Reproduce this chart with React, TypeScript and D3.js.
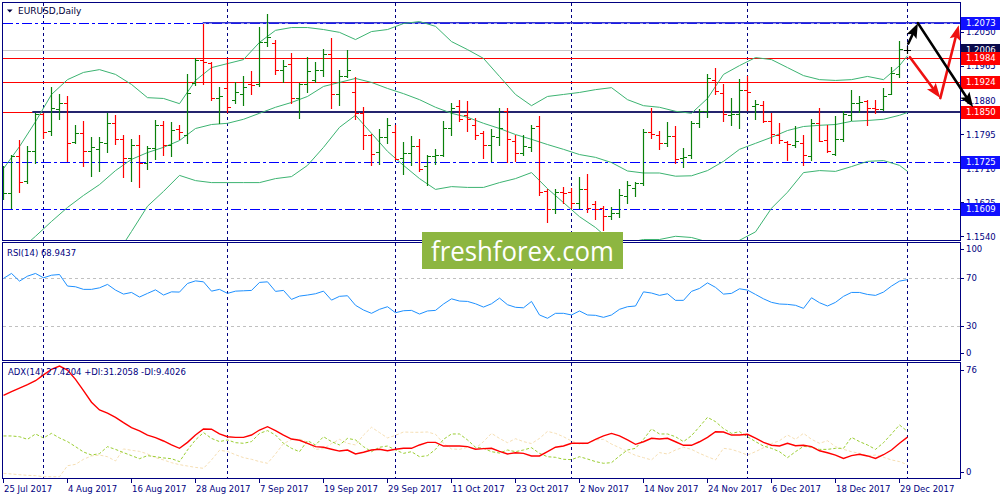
import React, { useEffect, useRef } from 'react';
import * as d3 from 'd3';

// EURUSD daily bars, 25 Jul 2017 .. 1 Jan 2018 (one entry per trading day)
const BAR_OPEN = [
  1.1636, 1.1649, 1.1740, 1.1678, 1.1753, 1.1844, 1.1802, 1.1857, 1.1873, 1.1775,
  1.1797, 1.1754, 1.1758, 1.1773, 1.1823, 1.1782, 1.1736, 1.1768, 1.1722, 1.1761,
  1.1819, 1.1768, 1.1807, 1.1792, 1.1923, 1.1981, 1.1973, 1.1885, 1.1911, 1.1879,
  1.1894, 1.1919, 1.1919, 1.2025, 1.2023, 1.1954, 1.1969, 1.1884, 1.1919, 1.1931,
  1.1955, 1.1996, 1.1896, 1.1940, 1.1901, 1.1848, 1.1794, 1.1751, 1.1788, 1.1801,
  1.1736, 1.1748, 1.1765, 1.1715, 1.1740, 1.1743, 1.1811, 1.1865, 1.1842, 1.1819,
  1.1798, 1.1768, 1.1788, 1.1852, 1.1778, 1.1748, 1.1763, 1.1815, 1.1653, 1.1609,
  1.1650, 1.1650, 1.1624, 1.1657, 1.1620, 1.1611, 1.1590, 1.1599, 1.1640, 1.1661,
  1.1674, 1.1801, 1.1794, 1.1772, 1.1790, 1.1736, 1.1742, 1.1822, 1.1852, 1.1931,
  1.1898, 1.1842, 1.1844, 1.1906, 1.1865, 1.1867, 1.1827, 1.1794, 1.1776, 1.1767,
  1.1772, 1.1741, 1.1823, 1.1780, 1.1746, 1.1783, 1.1842, 1.1873, 1.1877, 1.1861,
  1.1858, 1.1896, 1.1944, 1.2006,
];
const BAR_HIGH = [
  1.1715, 1.1742, 1.1780, 1.1765, 1.1848, 1.1848, 1.1912, 1.1894, 1.1891, 1.1817,
  1.1827, 1.1788, 1.1788, 1.1848, 1.1842, 1.1794, 1.1782, 1.1792, 1.1765, 1.1829,
  1.1827, 1.1825, 1.1819, 1.1944, 1.1985, 1.2071, 1.1975, 1.1913, 1.1981, 1.1925,
  1.1941, 1.1952, 1.2063, 1.2094, 1.2031, 1.1979, 1.1998, 1.1923, 1.1988, 1.1975,
  1.2008, 1.2035, 1.1956, 1.2006, 1.1938, 1.1863, 1.1796, 1.1807, 1.1834, 1.1817,
  1.1776, 1.1790, 1.1782, 1.1743, 1.1757, 1.1827, 1.1873, 1.1881, 1.1877, 1.1836,
  1.1802, 1.1807, 1.1861, 1.1859, 1.1792, 1.1794, 1.1819, 1.1840, 1.1659, 1.1659,
  1.1663, 1.1661, 1.1688, 1.1696, 1.1628, 1.1615, 1.1614, 1.1657, 1.1678, 1.1675,
  1.1807, 1.1861, 1.1802, 1.1825, 1.1815, 1.1761, 1.1827, 1.1858, 1.1946, 1.1960,
  1.1921, 1.1884, 1.1933, 1.1941, 1.1881, 1.1877, 1.1848, 1.1823, 1.1778, 1.1815,
  1.1794, 1.1832, 1.1861, 1.1817, 1.1840, 1.1852, 1.1905, 1.1891, 1.1881, 1.1881,
  1.1911, 1.1962, 1.2027, 1.2014,
];
const BAR_LOW = [
  1.1632, 1.1611, 1.1650, 1.1674, 1.1723, 1.1786, 1.1794, 1.1832, 1.1728, 1.1772,
  1.1715, 1.1690, 1.1704, 1.1750, 1.1771, 1.1688, 1.1679, 1.1664, 1.1708, 1.1733,
  1.1744, 1.1740, 1.1783, 1.1772, 1.1918, 1.1921, 1.1881, 1.1822, 1.1850, 1.1873,
  1.1867, 1.1894, 1.1915, 1.2015, 1.1946, 1.1925, 1.1873, 1.1836, 1.1900, 1.1926,
  1.1940, 1.1860, 1.1867, 1.1938, 1.1832, 1.1758, 1.1718, 1.1721, 1.1772, 1.1732,
  1.1696, 1.1719, 1.1703, 1.1669, 1.1721, 1.1740, 1.1794, 1.1827, 1.1804, 1.1782,
  1.1736, 1.1729, 1.1767, 1.1725, 1.1727, 1.1744, 1.1753, 1.1644, 1.1575, 1.1597,
  1.1624, 1.1611, 1.1611, 1.1600, 1.1582, 1.1555, 1.1582, 1.1589, 1.1624, 1.1640,
  1.1669, 1.1786, 1.1758, 1.1765, 1.1723, 1.1713, 1.1736, 1.1813, 1.1838, 1.1896,
  1.1827, 1.1817, 1.1811, 1.1854, 1.1832, 1.1825, 1.1773, 1.1773, 1.1730, 1.1763,
  1.1719, 1.1730, 1.1777, 1.1750, 1.1742, 1.1777, 1.1830, 1.1850, 1.1819, 1.1848,
  1.1855, 1.1896, 1.1938, 1.1998,
];
const BAR_CLOSE = [
  1.1649, 1.1740, 1.1675, 1.1753, 1.1844, 1.1801, 1.1859, 1.1872, 1.1773, 1.1797,
  1.1754, 1.1763, 1.1775, 1.1823, 1.1782, 1.1736, 1.1768, 1.1722, 1.1761, 1.1817,
  1.1768, 1.1805, 1.1801, 1.1898, 1.1981, 1.1975, 1.1885, 1.1890, 1.1863, 1.1901,
  1.1913, 1.1917, 1.2025, 1.2038, 1.1954, 1.1965, 1.1884, 1.1920, 1.1952, 1.1955,
  1.1996, 1.1896, 1.1940, 1.1954, 1.1848, 1.1794, 1.1746, 1.1788, 1.1818, 1.1734,
  1.1748, 1.1765, 1.1709, 1.1740, 1.1742, 1.1811, 1.1861, 1.1833, 1.1832, 1.1794,
  1.1768, 1.1790, 1.1811, 1.1782, 1.1747, 1.1765, 1.1811, 1.1650, 1.1609, 1.1650,
  1.1649, 1.1624, 1.1657, 1.1611, 1.1609, 1.1590, 1.1599, 1.1642, 1.1669, 1.1674,
  1.1801, 1.1796, 1.1773, 1.1790, 1.1732, 1.1738, 1.1823, 1.1852, 1.1934, 1.1902,
  1.1844, 1.1846, 1.1906, 1.1900, 1.1869, 1.1827, 1.1796, 1.1780, 1.1771, 1.1778,
  1.1744, 1.1823, 1.1778, 1.1752, 1.1783, 1.1844, 1.1873, 1.1876, 1.1861, 1.1858,
  1.1890, 1.1948, 1.2008, 1.2006,
];

// Bollinger Bands, read every second bar
const BAND_INDEX = [
  0, 2, 4, 6, 8, 10, 12, 14, 16, 18, 20, 22, 24, 26, 28, 30, 32, 34, 36, 38,
  40, 42, 44, 46, 48, 50, 52, 54, 56, 58, 60, 62, 64, 66, 68, 70, 72, 74, 76, 78,
  80, 82, 84, 86, 88, 90, 92, 94, 96, 98, 100, 102, 104, 106, 108, 110, 112, 113,
];
const BAND_UPPER = [
  1.1709, 1.1764, 1.1826, 1.1894, 1.1931, 1.1949, 1.1956, 1.1944, 1.1919, 1.1886,
  1.1884, 1.1871, 1.1929, 1.1961, 1.1971, 1.1981, 1.2024, 1.2054, 1.2061, 1.2061,
  1.2056, 1.2049, 1.2031, 1.2051, 1.2056, 1.2071, 1.2076, 1.2064, 1.2026, 1.2006,
  1.1984, 1.1939, 1.1894, 1.1866, 1.1889, 1.1894, 1.1899, 1.1906, 1.1911, 1.1881,
  1.1866, 1.1862, 1.1852, 1.1847, 1.1884, 1.1944, 1.1966, 1.1986, 1.1981, 1.1961,
  1.1941, 1.1931, 1.1929, 1.1931, 1.1939, 1.1931, 1.1966, 1.1991,
];
const BAND_MIDDLE = [
  1.1467, 1.1505, 1.1540, 1.1577, 1.1612, 1.1642, 1.1669, 1.1704, 1.1732, 1.1749,
  1.1762, 1.1779, 1.1809, 1.1819, 1.1822, 1.1832, 1.1847, 1.1862, 1.1874, 1.1889,
  1.1914, 1.1924, 1.1934, 1.1924, 1.1909, 1.1896, 1.1881, 1.1862, 1.1847, 1.1837,
  1.1822, 1.1809, 1.1794, 1.1782, 1.1769, 1.1757, 1.1744, 1.1737, 1.1724, 1.1703,
  1.1698, 1.1698, 1.1690, 1.1691, 1.1704, 1.1727, 1.1757, 1.1772, 1.1787, 1.1804,
  1.1814, 1.1817, 1.1819, 1.1827, 1.1829, 1.1832, 1.1842, 1.1849,
];
const BAND_LOWER = [
  1.1280, 1.1300, 1.1320, 1.1345, 1.1370, 1.1400, 1.1440, 1.1490, 1.1552, 1.1615,
  1.1652, 1.1692, 1.1679, 1.1674, 1.1674, 1.1674, 1.1674, 1.1684, 1.1689, 1.1717,
  1.1762, 1.1812, 1.1842, 1.1797, 1.1752, 1.1717, 1.1684, 1.1657, 1.1664, 1.1662,
  1.1662, 1.1674, 1.1684, 1.1699, 1.1659, 1.1624, 1.1589, 1.1562, 1.1527, 1.1524,
  1.1532, 1.1532, 1.1540, 1.1537, 1.1526, 1.1522, 1.1530, 1.1551, 1.1610, 1.1650,
  1.1699, 1.1704, 1.1702, 1.1714, 1.1727, 1.1729, 1.1717, 1.1702,
];

const RSI_VALUES = [
  70.0, 74.2, 67.7, 71.9, 74.2, 70.5, 72.7, 73.3, 63.5, 62.9,
  60.7, 60.7, 62.0, 64.9, 60.1, 56.7, 58.1, 54.2, 57.3, 60.3,
  55.9, 58.6, 58.4, 65.7, 67.9, 67.1, 59.2, 60.7, 57.3, 59.2,
  59.5, 59.8, 66.6, 67.1, 59.0, 59.8, 52.2, 55.0, 55.9, 57.0,
  59.2, 51.6, 54.8, 55.3, 47.2, 43.2, 40.4, 43.8, 46.0, 40.9,
  42.6, 42.9, 39.8, 42.4, 42.9, 48.3, 52.7, 50.8, 50.5, 48.5,
  45.7, 48.5, 53.3, 47.7, 45.5, 45.1, 50.5, 39.0, 36.2, 40.4,
  40.4, 39.0, 42.4, 39.0, 38.7, 37.0, 39.0, 43.8, 46.0, 46.6,
  58.6, 57.6, 55.6, 57.0, 51.4, 51.4, 59.0, 61.5, 66.2, 62.4,
  56.7, 57.3, 61.2, 60.1, 56.4, 52.7, 49.7, 48.3, 48.0, 47.2,
  44.6, 53.6, 49.4, 46.6, 49.7, 54.8, 58.1, 58.1, 56.4, 55.6,
  58.4, 63.5, 67.7, 68.94,
];

const ADX_MAIN = [
  54.8, 57.2, 59.6, 61.8, 64.4, 68.2, 71.9, 74.0, 71.4, 65.3,
  57.9, 50.3, 45.2, 43.1, 40.4, 36.9, 33.6, 31.5, 28.8, 27.1,
  24.9, 22.3, 20.1, 24.0, 28.8, 32.8, 32.6, 29.5, 27.7, 27.3,
  27.3, 28.8, 32.1, 34.3, 31.7, 28.8, 26.2, 25.4, 23.4, 21.2,
  20.8, 19.5, 18.3, 19.0, 16.4, 17.5, 19.0, 19.5, 18.5, 19.5,
  20.1, 20.1, 22.3, 24.0, 24.0, 21.6, 21.6, 21.6, 21.2, 19.5,
  19.9, 20.1, 18.1, 16.4, 17.2, 16.8, 15.1, 15.1, 17.9, 20.8,
  21.6, 23.4, 23.4, 23.4, 26.0, 28.2, 29.9, 28.2, 25.6, 22.7,
  24.4, 26.7, 26.2, 26.7, 24.4, 22.1, 22.1, 24.4, 27.3, 31.0,
  30.8, 28.8, 28.8, 29.3, 26.7, 24.0, 22.1, 21.6, 23.4, 21.8,
  22.1, 21.2, 18.5, 17.2, 15.7, 13.5, 15.3, 16.2, 15.1, 13.5,
  15.9, 19.0, 23.4, 27.42,
];
const ADX_PLUS_DI = [
  28.2, 28.2, 27.7, 26.0, 29.5, 26.9, 29.9, 26.9, 24.5, 21.2,
  17.7, 15.7, 16.6, 21.2, 19.4, 17.3, 15.3, 13.3, 15.3, 14.6,
  13.8, 13.3, 11.4, 19.0, 25.6, 30.4, 26.6, 24.5, 25.6, 23.8,
  23.4, 24.5, 29.9, 31.7, 28.8, 23.4, 20.1, 17.9, 25.1, 22.3,
  27.7, 24.5, 22.3, 26.6, 25.6, 21.2, 17.9, 20.8, 21.6, 19.0,
  16.8, 17.9, 14.6, 15.3, 19.4, 26.0, 29.5, 29.5, 25.6, 20.8,
  20.1, 17.9, 17.0, 19.0, 17.9, 19.0, 20.5, 16.8, 14.6, 14.2,
  12.9, 12.7, 14.6, 13.1, 11.4, 10.3, 10.7, 15.1, 19.0, 20.1,
  26.0, 32.8, 29.5, 29.5, 27.7, 24.5, 28.4, 34.3, 40.4, 37.6,
  33.0, 29.9, 31.0, 27.7, 24.5, 21.6, 20.1, 17.9, 14.0, 17.9,
  21.4, 20.8, 19.4, 19.4, 20.1, 20.1, 27.3, 24.5, 22.3, 19.4,
  23.8, 29.5, 35.4, 31.21,
];
const ADX_MINUS_DI = [
  3.7, 3.3, 2.8, 2.4, 2.2, 1.5, 1.5, 1.5, 8.7, 9.6,
  12.9, 15.1, 15.7, 14.6, 11.8, 19.7, 18.8, 18.1, 16.4, 14.0,
  12.5, 10.7, 9.4, 8.5, 7.6, 7.0, 12.5, 18.8, 18.1, 15.9,
  14.0, 12.9, 11.4, 10.3, 16.4, 23.2, 25.8, 26.2, 24.2, 19.4,
  19.9, 23.2, 26.0, 23.4, 22.3, 28.8, 33.9, 30.4, 26.9, 28.6,
  30.8, 30.6, 30.6, 30.8, 29.3, 23.4, 19.7, 19.4, 20.8, 20.1,
  24.5, 29.9, 26.6, 23.8, 26.4, 24.5, 23.2, 26.6, 31.2, 29.9,
  27.7, 24.9, 22.9, 23.4, 25.6, 26.0, 22.9, 20.5, 17.9, 15.5,
  14.0, 12.5, 17.3, 16.4, 19.0, 20.8, 19.4, 16.8, 14.6, 12.5,
  20.1, 19.4, 17.7, 15.7, 17.9, 20.5, 23.2, 25.1, 28.8, 26.0,
  29.9, 26.0, 23.4, 25.1, 21.2, 19.4, 17.9, 16.8, 15.1, 15.7,
  14.2, 12.5, 11.4, 9.40,
];

const DATE_LABELS = [
  '25 Jul 2017', '4 Aug 2017', '16 Aug 2017', '28 Aug 2017', '7 Sep 2017',
  '19 Sep 2017', '29 Sep 2017', '11 Oct 2017', '23 Oct 2017', '2 Nov 2017',
  '14 Nov 2017', '24 Nov 2017', '6 Dec 2017', '18 Dec 2017', '29 Dec 2017',
];
const DATE_LABEL_INDEX = [0, 8, 16, 24, 32, 40, 48, 56, 64, 72, 80, 88, 96, 104, 112];
const MONTH_GRID_INDEX = [5, 28, 49, 71, 93, 113];

const PRICE_TICKS = [1.205, 1.1965, 1.188, 1.1795, 1.171, 1.1625, 1.154];
const RSI_TICKS = [100, 70, 30, 0];
const ADX_TICKS = [76, 0];

const BID_PRICE = 1.2006;
const BLUE_LEVELS = [1.2073, 1.1725, 1.1609];
const RED_LEVELS = [1.1984, 1.1924, 1.185];
// horizontal zones (price, first bar index)
const ZONE_PRICES = [1.2073, 1.185];
const ZONE_START = [24.9, 3.6];

// hand-drawn forecast arrows: [bar index, price]
const BLACK_ARROWS = [
  [[113.1, 1.2021], [114.3, 1.2072]],
  [[114.3, 1.2072], [121.2, 1.1862]],
];
const RED_ARROWS = [
  [[113.3, 1.1987], [117.1, 1.1885]],
  [[117.1, 1.1885], [119.4, 1.2067]],
];

const NAVY = '#000080';
const FONT = '"DejaVu Sans", Verdana, sans-serif';

export default function App() {
  const svgRef = useRef<SVGSVGElement>(null);

  useEffect(() => {
    if (!svgRef.current) return;
    const svg = d3.select(svgRef.current);
    svg.selectAll('*').remove();

    const left = 2.5;
    const right = 960.5;
    const main = { top: 2.5, bottom: 240.5 };
    const rsiP = { top: 242.5, bottom: 360.5 };
    const adxP = { top: 362.5, bottom: 478.5 };

    const x = d3.scaleLinear().domain([0, 113]).range([3.5, 907.5]);
    const y = d3.scaleLinear().domain([1.153, 1.2123]).range([240.3, 2.7]);
    const yRsi = d3.scaleLinear().domain([0, 100]).range([361, 243]);
    const yAdx = d3.scaleLinear().domain([0, 76]).range([479, 363]);

    svg.append('rect').attr('width', 1000).attr('height', 500).attr('fill', '#fff');

    const defs = svg.append('defs');
    const addClip = (id: string, p: { top: number; bottom: number }) =>
      defs.append('clipPath').attr('id', id).append('rect')
        .attr('x', left).attr('y', p.top).attr('width', right - left).attr('height', p.bottom - p.top);
    addClip('clip-main', main);
    addClip('clip-rsi', rsiP);
    addClip('clip-adx', adxP);
    defs.append('filter').attr('id', 'soft').attr('x', '-5%').attr('y', '-200%')
      .attr('width', '110%').attr('height', '500%')
      .append('feGaussianBlur').attr('stdDeviation', 1.6);

    // month grid
    svg.append('g').selectAll('line').data(MONTH_GRID_INDEX).join('line')
      .attr('x1', d => x(d)).attr('x2', d => x(d))
      .attr('y1', 3).attr('y2', 479)
      .attr('stroke', NAVY).attr('stroke-dasharray', '3,3').attr('shape-rendering', 'crispEdges');

    // ---------- main panel ----------
    const g = svg.append('g').attr('clip-path', 'url(#clip-main)');
    const hline = (p: number, x0 = left) =>
      g.append('line').attr('x1', x0).attr('x2', right)
        .attr('y1', Math.round(y(p)) + 0.5).attr('y2', Math.round(y(p)) + 0.5);

    hline(BID_PRICE).attr('stroke', '#c8c8c8').attr('shape-rendering', 'crispEdges');
    BLUE_LEVELS.forEach(p => hline(p).attr('stroke', '#0000ff').attr('stroke-dasharray', '10,3,3,3')
      .attr('shape-rendering', 'crispEdges'));
    RED_LEVELS.forEach(p => hline(p).attr('stroke', '#ff0000').attr('shape-rendering', 'crispEdges'));

    ZONE_PRICES.forEach((p, k) => {
      const x0 = x(ZONE_START[k]);
      g.append('line').attr('x1', x0).attr('x2', right + 4).attr('y1', y(p)).attr('y2', y(p))
        .attr('stroke', '#8a8a8a').attr('stroke-width', 6).attr('opacity', 0.55).attr('filter', 'url(#soft)');
      g.append('line').attr('x1', x0).attr('x2', right).attr('y1', y(p)).attr('y2', y(p))
        .attr('stroke', k === 0 ? '#3535d0' : '#24246e').attr('stroke-width', k === 0 ? 1.4 : 2);
    });

    const bandLine = (vals: number[]) => d3.line<number>()
      .x((_, i) => x(BAND_INDEX[i])).y(v => y(v))(vals);
    [BAND_UPPER, BAND_MIDDLE, BAND_LOWER].forEach(vals => {
      g.append('path').attr('d', bandLine(vals)).attr('fill', 'none')
        .attr('stroke', '#3cb371').attr('stroke-width', 1);
    });

    const px = (v: number) => Math.round(v) + 0.5;
    g.append('g').selectAll('path').data(BAR_OPEN.map((_, i) => i)).join('path')
      .attr('d', i => {
        const cx = x(i);
        return `M${cx},${Math.round(y(BAR_HIGH[i]))}V${Math.round(y(BAR_LOW[i])) + 1}` +
          `M${cx - 3.5},${px(y(BAR_OPEN[i]))}H${cx}` +
          `M${cx},${px(y(BAR_CLOSE[i]))}H${cx + 3.5}`;
      })
      .attr('fill', 'none')
      .attr('stroke', i => BAR_CLOSE[i] > BAR_OPEN[i] ? '#0a800a' : BAR_CLOSE[i] < BAR_OPEN[i] ? '#ff0000' : '#000000')
      .attr('stroke-width', 1.2);

    // ---------- RSI panel ----------
    const gr = svg.append('g').attr('clip-path', 'url(#clip-rsi)');
    [70, 30].forEach(v => gr.append('line').attr('x1', left).attr('x2', right)
      .attr('y1', px(yRsi(v))).attr('y2', px(yRsi(v)))
      .attr('stroke', '#c0c0c0').attr('stroke-dasharray', '3,3').attr('shape-rendering', 'crispEdges'));
    gr.append('path')
      .attr('d', d3.line<number>().x((_, i) => x(i)).y(v => yRsi(v))(RSI_VALUES))
      .attr('fill', 'none').attr('stroke', '#1e90ff').attr('stroke-width', 1);

    // ---------- ADX panel ----------
    const ga = svg.append('g').attr('clip-path', 'url(#clip-adx)');
    const adxLine = d3.line<number>().x((_, i) => x(i)).y(v => yAdx(v));
    ga.append('path').attr('d', adxLine(ADX_MINUS_DI)).attr('fill', 'none')
      .attr('stroke', '#f5deb3').attr('stroke-width', 1).attr('stroke-dasharray', '3,2');
    ga.append('path').attr('d', adxLine(ADX_PLUS_DI)).attr('fill', 'none')
      .attr('stroke', '#9acd32').attr('stroke-width', 1).attr('stroke-dasharray', '3,2');
    ga.append('path').attr('d', adxLine(ADX_MAIN)).attr('fill', 'none')
      .attr('stroke', '#ff0000').attr('stroke-width', 1.4);

    // ---------- frames ----------
    [main, rsiP, adxP].forEach(p => svg.append('rect')
      .attr('x', left).attr('y', p.top).attr('width', right - left).attr('height', p.bottom - p.top)
      .attr('fill', 'none').attr('stroke', NAVY).attr('shape-rendering', 'crispEdges'));

    const text = (tx: number, ty: number, s: string, size = 8.5, fill = NAVY) =>
      svg.append('text').attr('x', tx).attr('y', ty).attr('dy', '0.35em')
        .attr('font-family', FONT).attr('font-size', size).attr('fill', fill).text(s);

    // title + indicator captions
    svg.append('path').attr('d', 'M7,9.5H12.6L9.8,12.5Z').attr('fill', '#000040');
    text(18, 11, 'EURUSD,Daily', 9, '#00003a');
    text(7, 253, 'RSI(14) 68.9437', 8.5);
    text(8, 372, 'ADX(14) 27.4204 +DI:31.2058 -DI:9.4026', 8.5);

    // price axis
    PRICE_TICKS.forEach(p => {
      svg.append('line').attr('x1', right).attr('x2', 964).attr('y1', px(y(p))).attr('y2', px(y(p)))
        .attr('stroke', NAVY).attr('shape-rendering', 'crispEdges');
      text(966, y(p) + 0.5, p.toFixed(4));
    });
    RSI_TICKS.forEach(v => {
      const ty = Math.min(Math.max(yRsi(v), 249), 353);
      svg.append('line').attr('x1', right).attr('x2', 964).attr('y1', px(ty)).attr('y2', px(ty))
        .attr('stroke', NAVY).attr('shape-rendering', 'crispEdges');
      text(966, ty, String(v));
    });
    ADX_TICKS.forEach(v => {
      const ty = Math.min(Math.max(yAdx(v), 370), 472);
      svg.append('line').attr('x1', right).attr('x2', 964).attr('y1', px(ty)).attr('y2', px(ty))
        .attr('stroke', NAVY).attr('shape-rendering', 'crispEdges');
      text(966, ty, String(v));
    });

    // level boxes on the price axis (they sit over the scale labels, as in the terminal)
    const box = (p: number, fill: string) => {
      svg.append('rect').attr('x', 961).attr('y', Math.round(y(p)) - 6).attr('width', 40).attr('height', 13)
        .attr('fill', fill);
      text(966, Math.round(y(p)) + 0.5, p.toFixed(4), 8.5, '#ffffff');
    };
    box(BID_PRICE, '#0b0b4c');
    RED_LEVELS.forEach(p => box(p, '#ff0000'));
    BLUE_LEVELS.forEach(p => box(p, '#1010ff'));

    // time axis
    DATE_LABEL_INDEX.forEach((d, k) => {
      svg.append('line').attr('x1', x(d)).attr('x2', x(d)).attr('y1', 479).attr('y2', 483)
        .attr('stroke', NAVY).attr('shape-rendering', 'crispEdges');
      text(x(d) + 0.5, 489, DATE_LABELS[k]);
    });

    // watermark
    svg.append('rect').attr('x', 422).attr('y', 232).attr('width', 201).attr('height', 37)
      .attr('fill', '#8db641');
    svg.append('text').attr('x', 431).attr('y', 261)
      .attr('font-family', '"Open Sans", "Noto Sans", sans-serif').attr('font-size', 28)
      .attr('fill', '#ffffff').attr('textLength', 183).attr('lengthAdjust', 'spacingAndGlyphs')
      .text('freshforex.com');

    // arrows
    const arrow = (seg: number[][], color: string) => {
      const [x0, y0] = [x(seg[0][0]), y(seg[0][1])];
      const [x1, y1] = [x(seg[1][0]), y(seg[1][1])];
      const len = Math.hypot(x1 - x0, y1 - y0);
      const ux = (x1 - x0) / len;
      const uy = (y1 - y0) / len;
      const hl = Math.min(15, len * 0.9);
      const hw = 5.5;
      const bx = x1 - ux * hl;
      const by = y1 - uy * hl;
      svg.append('line').attr('x1', x0).attr('y1', y0).attr('x2', bx + ux * 3).attr('y2', by + uy * 3)
        .attr('stroke', color).attr('stroke-width', 2.6).attr('stroke-linecap', 'round');
      svg.append('path')
        .attr('d', `M${x1},${y1}L${bx - uy * hw},${by + ux * hw}L${bx + ux * 3},${by + uy * 3}L${bx + uy * hw},${by - ux * hw}Z`)
        .attr('fill', color);
    };
    RED_ARROWS.forEach(s => arrow(s, '#ee1111'));
    BLACK_ARROWS.forEach(s => arrow(s, '#000000'));
  }, []);

  return (
    <svg
      ref={svgRef}
      width={1000}
      height={500}
      style={{ position: 'fixed', left: 0, top: 0, display: 'block', background: '#fff' }}
    />
  );
}
